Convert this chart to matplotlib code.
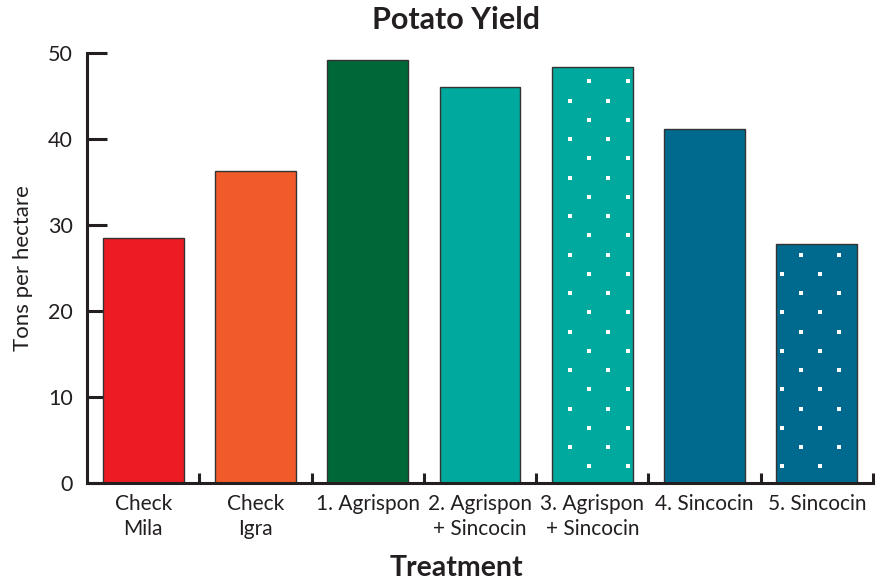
import numpy as np
import matplotlib
matplotlib.use("Agg")
import matplotlib.pyplot as plt

categories = ["Check\nMila", "Check\nIgra", "1. Agrispon", "2. Agrispon\n+ Sincocin",
              "3. Agrispon\n+ Sincocin", "4. Sincocin", "5. Sincocin"]
values = [28.5, 36.3, 49.2, 46.0, 48.4, 41.2, 27.8]
colors = ["#ED1C24", "#F15A29", "#006838", "#00A99D", "#00A99D", "#006A8E", "#006A8E"]
dotted = [False, False, False, False, True, False, True]
yticks = [0, 10, 20, 30, 40, 50]

plt.rcParams['font.family'] = ['Lato', 'DejaVu Sans']
ink = "#231F20"

fig = plt.figure(figsize=(8.79, 5.82), dpi=100)
ax = fig.add_axes([87/879, 1 - 483/582, (873-87)/879, (483-53)/582])

x = np.arange(len(categories))
bars = ax.bar(x, values, width=0.72, color=colors, edgecolor="#333333", linewidth=1.0, zorder=2)

# dot pattern (global staggered lattice, clipped to dotted bars)
px_per_cat = 112.3
px_per_unit = 8.6
xp = 38.5 / px_per_cat
yp = 19.25 / px_per_unit
x0 = (589 - 143) / px_per_cat
y0 = (483 - 466.3) / px_per_unit
for b, d in zip(bars, dotted):
    if not d:
        continue
    xs, ys = [], []
    xl, xr = b.get_x(), b.get_x() + b.get_width()
    top = b.get_height()
    k0 = int(np.floor((xl - x0) / xp)) - 2
    k1 = int(np.ceil((xr - x0) / xp)) + 2
    r = 0
    yy = y0
    while yy < top + yp:
        off = 0 if r % 2 == 0 else -xp / 2
        for k in range(k0, k1):
            xx = x0 + k * xp + off
            if xl < xx < xr and yy < top:
                xs.append(xx)
                ys.append(yy)
        r += 1
        yy = y0 + r * yp
    sc = ax.scatter(xs, ys, marker='s', s=9, color='white', linewidths=0, zorder=3)
    sc.set_clip_path(b)

ax.set_xlim(-0.5, 6.5)
ax.set_ylim(0, 50)
for s in ["top", "right"]:
    ax.spines[s].set_visible(False)
for s in ["left", "bottom"]:
    ax.spines[s].set_linewidth(2.2)
    ax.spines[s].set_color(ink)
    ax.spines[s].set_zorder(4)

ax.set_yticks(yticks)
ax.set_yticklabels([str(t) for t in yticks])
ax.tick_params(axis='y', direction='in', length=14.5, width=2.2, color=ink,
               labelsize=15.5, labelcolor=ink, pad=10)
ax.set_xticks(x)
ax.set_xticklabels(categories)
ax.tick_params(axis='x', which='major', length=0, labelsize=15, labelcolor=ink, pad=8)
ax.set_xticks(np.arange(0.5, 7, 1.0), minor=True)
ax.tick_params(axis='x', which='minor', direction='in', length=7, width=2.2, color=ink)
for lab in ax.get_xticklabels():
    lab.set_linespacing(1.32)

ax.set_ylabel("Tons per hectare", fontsize=16, color=ink, labelpad=11)

fig.text(456/879, 1 - 20/582, "Potato Yield", ha='center', va='center',
         fontsize=22, fontweight='bold', color=ink)
fig.text(456/879, 1 - 568/582, "Treatment", ha='center', va='center',
         fontsize=20.5, fontweight='bold', color=ink)

fig.savefig("out.png", dpi=100)
